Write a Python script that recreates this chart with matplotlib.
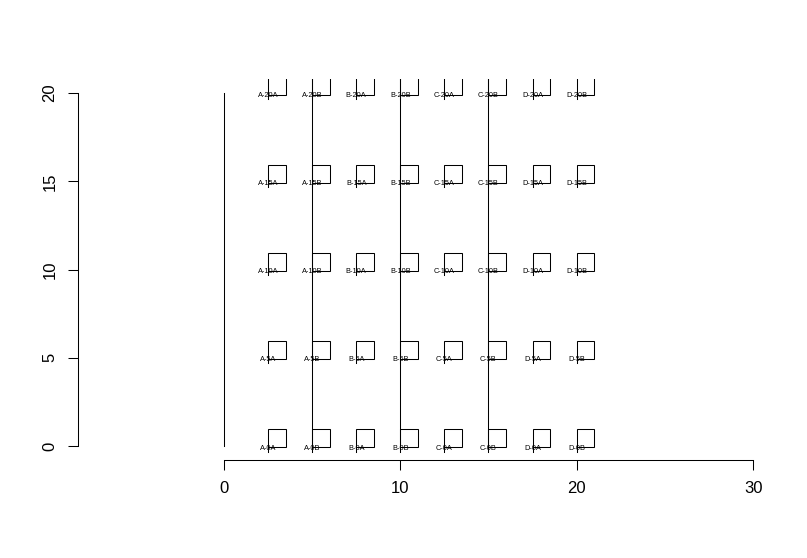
import matplotlib
matplotlib.use("Agg")
import matplotlib.pyplot as plt
from matplotlib.patches import Rectangle

plt.rcParams['font.family'] = ['Liberation Sans', 'DejaVu Sans']

# grid of labelled boxes: group letter, sub letter, level
groups = ['A', 'A', 'B', 'B', 'C', 'C', 'D', 'D']
subs = ['A', 'B', 'A', 'B', 'A', 'B', 'A', 'B']
x_pos = [2.5, 5, 7.5, 10, 12.5, 15, 17.5, 20]
levels = [0, 5, 10, 15, 20]

# vertical guide lines (x, y from, y to)
vline_x = [0, 5, 10, 15]
vline_y0 = [0, 0, 0, 0]
vline_y1 = [20, 25, 25, 25]

x_ticks = [0, 10, 20, 30]
y_ticks = [0, 5, 10, 15, 20]

W, H = 807, 558
fig = plt.figure(figsize=(W / 100, H / 100), dpi=100)
ax = fig.add_axes([78 / W, (H - 460) / H, 689 / W, 381 / H])
ax.set_xlim(-8.27, 30.79)
ax.set_ylim(-0.8, 20.8)

lw = 0.75
for xv, a, b in zip(vline_x, vline_y0, vline_y1):
    ax.plot([xv, xv], [a, b], color='black', lw=lw)

for lev in levels:
    for g, s, xv in zip(groups, subs, x_pos):
        ax.add_patch(Rectangle((xv, lev - 0.08), 1, 1.03, fill=False,
                               edgecolor='black', lw=lw))
        ax.plot([xv, xv], [lev - 0.32, lev - 0.08], color='black', lw=lw)
        ax.text(xv, lev - 0.12, f"{g}-{lev}{s}", ha='center', va='center',
                fontsize=5.3)

for side in ['top', 'right']:
    ax.spines[side].set_visible(False)
ax.spines['left'].set_bounds(0, 20)
ax.spines['bottom'].set_bounds(0, 30)
ax.spines['left'].set_linewidth(lw)
ax.spines['bottom'].set_linewidth(lw)
ax.set_xticks(x_ticks)
ax.set_yticks(y_ticks)
ax.tick_params(length=6.9, width=lw, labelsize=12, pad=8)
plt.setp(ax.get_yticklabels(), rotation=90, va='center')

fig.savefig("out.png", dpi=100)
